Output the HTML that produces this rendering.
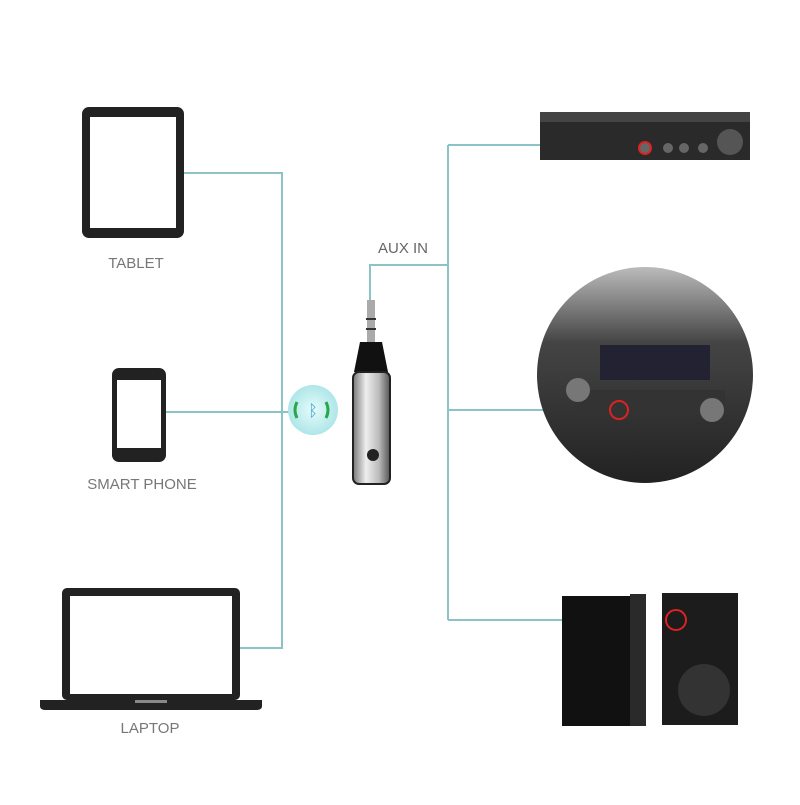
<!DOCTYPE html>
<html><head><style>
body{margin:0;background:#fff;width:800px;height:800px;overflow:hidden;font-family:"Liberation Sans",sans-serif}
</style></head><body>
<svg width="800" height="800" viewBox="0 0 800 800" xmlns="http://www.w3.org/2000/svg">
<defs>
<linearGradient id="sil" x1="0" x2="1"><stop offset="0" stop-color="#777"/><stop offset="0.35" stop-color="#eee"/><stop offset="0.7" stop-color="#bbb"/><stop offset="1" stop-color="#555"/></linearGradient>
<radialGradient id="bt"><stop offset="0" stop-color="#e6fbfb"/><stop offset="1" stop-color="#aee6e8"/></radialGradient>
<linearGradient id="car" x1="0" y1="0" x2="0" y2="1"><stop offset="0" stop-color="#bbb"/><stop offset="0.35" stop-color="#444"/><stop offset="1" stop-color="#222"/></linearGradient>
</defs>
<g stroke="#8cc3c6" stroke-width="2" fill="none">
<polyline points="184,173 282,173 282,648 240,648"/>
<line x1="166" y1="412" x2="290" y2="412"/>
<polyline points="370,300 370,265 448,265"/>
<line x1="448" y1="145" x2="448" y2="620"/>
<line x1="448" y1="145" x2="545" y2="145"/>
<line x1="448" y1="410" x2="545" y2="410"/>
<line x1="448" y1="620" x2="565" y2="620"/>
</g>
<rect x="82" y="107" width="102" height="131" rx="7" fill="#222"/>
<rect x="90" y="117" width="86" height="111" fill="#fff"/>
<text x="136" y="268" font-size="15" fill="#777" text-anchor="middle">TABLET</text>
<rect x="112" y="368" width="54" height="94" rx="7" fill="#222"/>
<rect x="117" y="380" width="44" height="68" fill="#fff"/>
<text x="142" y="489" font-size="15" fill="#777" text-anchor="middle">SMART PHONE</text>
<rect x="62" y="588" width="178" height="112" rx="5" fill="#222"/>
<rect x="70" y="596" width="162" height="98" fill="#fff"/>
<path d="M40 700 H262 V706 Q262 710 256 710 H46 Q40 710 40 706Z" fill="#222"/>
<rect x="135" y="700" width="32" height="3" fill="#888"/>
<text x="150" y="733" font-size="15" fill="#777" text-anchor="middle">LAPTOP</text>
<circle cx="313" cy="410" r="25" fill="url(#bt)"/>
<text x="313" y="416" font-size="16" fill="#3a9fd8" text-anchor="middle">ᛒ</text>
<path d="M297 402 q-4 8 0 16 M326 402 q4 8 0 16" stroke="#27a84a" stroke-width="3" fill="none"/>
<text x="378" y="253" font-size="15" fill="#666">AUX IN</text>
<rect x="367" y="300" width="8" height="42" fill="#aaa"/>
<rect x="366" y="318" width="10" height="2" fill="#333"/><rect x="366" y="328" width="10" height="2" fill="#333"/>
<path d="M360 342 h22 l6 30 h-34z" fill="#111"/>
<rect x="353" y="372" width="37" height="112" rx="6" fill="url(#sil)" stroke="#222" stroke-width="2"/>
<circle cx="373" cy="455" r="6" fill="#222"/>
<rect x="540" y="112" width="210" height="48" fill="#2a2a2a"/>
<rect x="540" y="112" width="210" height="10" fill="#444"/>
<circle cx="730" cy="142" r="13" fill="#555"/>
<circle cx="645" cy="148" r="6" fill="#666" stroke="#d22" stroke-width="2"/>
<circle cx="668" cy="148" r="5" fill="#666"/><circle cx="684" cy="148" r="5" fill="#666"/><circle cx="703" cy="148" r="5" fill="#666"/>
<circle cx="645" cy="375" r="108" fill="url(#car)"/>
<rect x="600" y="345" width="110" height="35" fill="#223"/>
<rect x="575" y="390" width="150" height="25" fill="#333"/>
<circle cx="578" cy="390" r="12" fill="#777"/><circle cx="712" cy="410" r="12" fill="#777"/>
<circle cx="619" cy="410" r="9" fill="none" stroke="#d22" stroke-width="2"/>
<rect x="562" y="596" width="84" height="130" fill="#111"/>
<rect x="630" y="594" width="16" height="132" fill="#2a2a2a"/>
<rect x="662" y="593" width="76" height="132" fill="#1c1c1c"/>
<circle cx="704" cy="690" r="26" fill="#333"/>
<circle cx="676" cy="620" r="10" fill="none" stroke="#d22" stroke-width="2"/>
</svg>
</body></html>
